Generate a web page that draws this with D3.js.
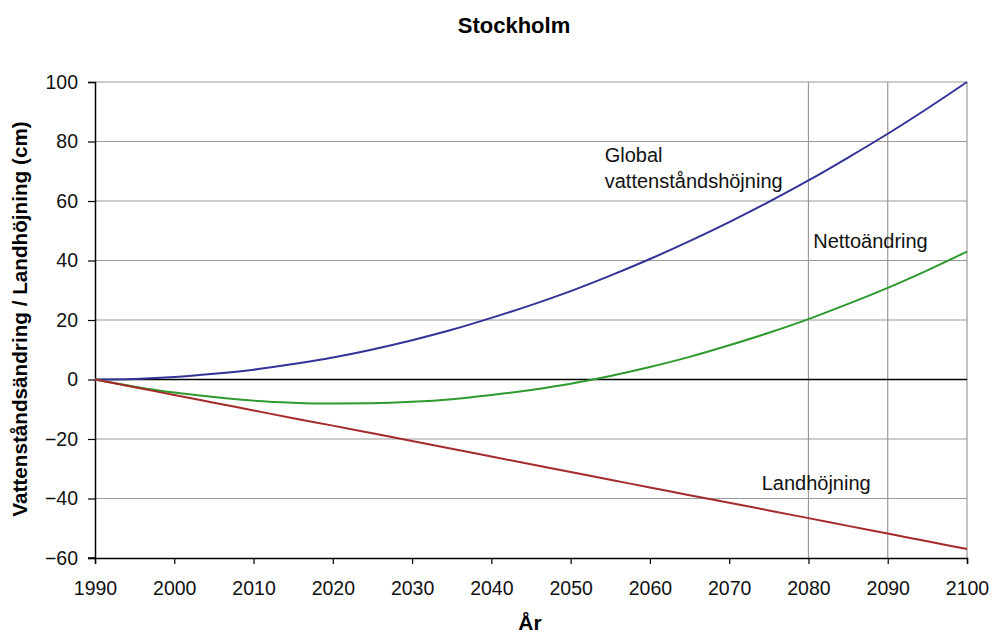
<!DOCTYPE html>
<html>
<head>
<meta charset="utf-8">
<script src="https://cdn.jsdelivr.net/npm/d3@7"></script>
<style>
  body { margin: 0; background: #fff; }
  text { font-family: "Liberation Sans", Arial, sans-serif; }
</style>
</head>
<body>
<div id="chart"></div>
<script>
// values, every 5 years
const years = [1990, 1995, 2000, 2005, 2010, 2015, 2020, 2025, 2030, 2035, 2040, 2045,
  2050, 2055, 2060, 2065, 2070, 2075, 2080, 2085, 2090, 2095, 2100];
const globalRise = [0, 0.2, 0.8, 1.9, 3.3, 5.2, 7.4, 10.1, 13.2, 16.7, 20.7, 25,
  29.7, 34.9, 40.5, 46.5, 52.9, 59.7, 66.9, 74.6, 82.6, 91.1, 100];
const landUplift = [0, -2.6, -5.2, -7.8, -10.4, -13, -15.5, -18.1, -20.7, -23.3, -25.9, -28.5,
  -31.1, -33.7, -36.3, -38.9, -41.4, -44, -46.6, -49.2, -51.8, -54.4, -57];
const netChange = [0, -2.4, -4.4, -5.9, -7.1, -7.8, -8.1, -8.0, -7.5, -6.6, -5.2, -3.5,
  -1.4, 1.2, 4.2, 7.6, 11.5, 15.7, 20.3, 25.4, 30.8, 36.7, 43];
const xTicks = [1990, 2000, 2010, 2020, 2030, 2040, 2050, 2060, 2070, 2080, 2090, 2100];
const yTicks = [-60, -40, -20, 0, 20, 40, 60, 80, 100];
const vGrid = [2080, 2090, 2100];

const width = 993, height = 633;
const margin = { top: 82, right: 26, bottom: 75, left: 95 };
const innerW = width - margin.left - margin.right;
const innerH = height - margin.top - margin.bottom;

const svg = d3.select('#chart').append('svg')
  .attr('width', width).attr('height', height);
const g = svg.append('g').attr('transform', `translate(${margin.left},${margin.top})`);

const x = d3.scaleLinear().domain([1990, 2100]).range([0, innerW]);
const y = d3.scaleLinear().domain([-60, 100]).range([innerH, 0]);

// grid
g.selectAll('.hgrid').data(yTicks.filter(d => d !== 0 && d !== -60)).enter()
  .append('line')
  .attr('x1', 0).attr('x2', innerW)
  .attr('y1', d => y(d)).attr('y2', d => y(d))
  .attr('stroke', '#999').attr('stroke-width', 1.2);
g.selectAll('.vgrid').data(vGrid).enter()
  .append('line')
  .attr('x1', d => x(d)).attr('x2', d => x(d))
  .attr('y1', 0).attr('y2', innerH)
  .attr('stroke', '#999').attr('stroke-width', 1.2);

// zero line
g.append('line')
  .attr('x1', 0).attr('x2', innerW)
  .attr('y1', y(0)).attr('y2', y(0))
  .attr('stroke', '#000').attr('stroke-width', 1.5);

// axes
const xAxis = g.append('g').attr('transform', `translate(0,${innerH})`)
  .call(d3.axisBottom(x).tickValues(xTicks).tickFormat(d3.format('d')).tickSize(6).tickPadding(17));
const yAxis = g.append('g')
  .call(d3.axisLeft(y).tickValues(yTicks).tickSize(7).tickPadding(10));
[xAxis, yAxis].forEach(a => {
  a.select('.domain').attr('stroke', '#000').attr('stroke-width', 1.5);
  a.selectAll('.tick line').attr('stroke', '#000').attr('stroke-width', 1.2);
  a.selectAll('.tick text').style('font-size', '19.5px').attr('fill', '#111')
    .style('font-family', '"Liberation Sans", Arial, sans-serif');
});
// extend x axis line to the left under the y ticks
g.append('line').attr('x1', -7).attr('x2', 0).attr('y1', innerH).attr('y2', innerH)
  .attr('stroke', '#000').attr('stroke-width', 1.5);

// series
const series = [
  { values: globalRise, color: '#333399' },
  { values: netChange, color: '#2e9a2e' },
  { values: landUplift, color: '#a52a2a' }
];
const line = d3.line()
  .x((d, i) => x(years[i]))
  .y(d => y(d))
  .curve(d3.curveMonotoneX);
series.forEach(s => {
  g.append('path')
    .datum(s.values)
    .attr('fill', 'none')
    .attr('stroke', s.color)
    .attr('stroke-width', 2)
    .attr('d', line);
});

// labels
const labels = [
  { text: 'Global', x: 2054.3, y: 73 },
  { text: 'vattenståndshöjning', x: 2054.3, y: 64.3 },
  { text: 'Nettoändring', x: 2080.6, y: 44.2 },
  { text: 'Landhöjning', x: 2074.1, y: -37 }
];
labels.forEach(l => {
  g.append('text')
    .attr('x', x(l.x)).attr('y', y(l.y))
    .style('font-size', '20px').attr('fill', '#111')
    .text(l.text);
});

svg.append('text')
  .attr('x', 514).attr('y', 33)
  .attr('text-anchor', 'middle')
  .style('font-size', '22px').style('font-weight', 'bold')
  .text('Stockholm');

svg.append('text')
  .attr('x', 530).attr('y', 630)
  .attr('text-anchor', 'middle')
  .style('font-size', '21px').style('font-weight', 'bold')
  .text('År');

svg.append('text')
  .attr('transform', 'translate(27,319) rotate(-90)')
  .attr('text-anchor', 'middle')
  .style('font-size', '20.7px').style('font-weight', 'bold')
  .text('Vattenståndsändring / Landhöjning (cm)');
</script>
</body>
</html>
